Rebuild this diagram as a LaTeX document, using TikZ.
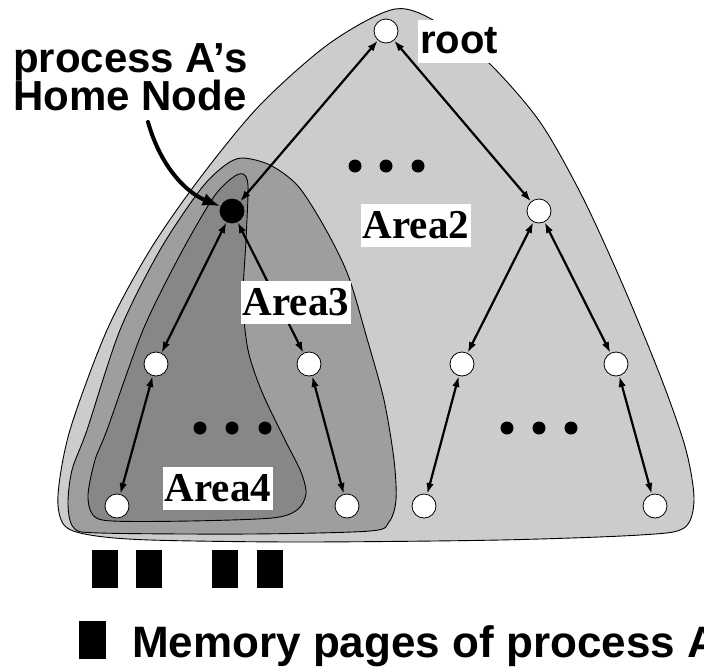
\documentclass[tikz,border=0pt]{standalone}
\usepackage{fontspec}
\setmainfont{Liberation Serif}
\setsansfont{Liberation Sans}
\usetikzlibrary{arrows.meta}
\definecolor{grigioA}{gray}{0.80}
\definecolor{grigioB}{gray}{0.62}
\definecolor{grigioC}{gray}{0.53}

\begin{document}
\begin{tikzpicture}[x=1pt, y=-1pt, line cap=round, line join=round,
  nodo/.style={circle, draw, fill=white, line width=0.8pt, minimum size=24pt, inner sep=0pt},
  freccia/.style={{Latex[length=11pt,width=7.5pt]}-{Latex[length=11pt,width=7.5pt]}, line width=2.2pt},
  area/.style={draw, line width=0.9pt},
  etichetta/.style={fill=white, inner xsep=2pt, minimum height=43pt, font=\fontsize{41}{41}\selectfont\bfseries},
  scritta/.style={inner sep=0pt, anchor=base west, font=\fontsize{42}{42}\selectfont\sffamily\bfseries}]
  \def\rp{6.5pt}

  \useasboundingbox (0,0) rectangle (704,670);
  \clip (0,0) rectangle (704,670);

  % aree
  \draw[area, fill=grigioA] plot[smooth cycle] coordinates {(395,9) (440,24) (489,63) (540,122) (583,198) (625,290) (663,383) (686,450) (694,500) (684,528) (640,535) (500,540) (300,542) (150,540) (90,535) (64,525) (58,495) (70,430) (107,330) (150,250) (200,178) (260,105) (330,43)};
  \draw[area, fill=grigioB] plot[smooth cycle] coordinates {(242,158) (270,165) (298,186) (325,228) (348,275) (366,335) (384,400) (394,460) (396,500) (389,522) (370,531) (250,534) (100,533) (74,528) (68,505) (72,470) (87,430) (120,330) (160,250) (200,190) (224,166)};
  \draw[area, fill=grigioC] plot[smooth cycle] coordinates {(243,174) (248,186) (246,240) (243,300) (248,350) (262,392) (285,440) (301,472) (306,494) (297,510) (272,518) (190,521) (112,521) (93,515) (88,495) (95,460) (107,430) (143,330) (180,255) (213,198) (232,178)};

  % nodi
  \node[nodo] (root) at (386,31) {};
  \node[nodo, fill=black] (home) at (232,211) {};
  \node[nodo] (dx) at (539,211) {};
  \node[nodo] (a) at (156,364) {};
  \node[nodo] (b) at (309,364) {};
  \node[nodo] (c) at (462,364) {};
  \node[nodo] (d) at (616,364) {};
  \node[nodo] (fa) at (117,506) {};
  \node[nodo] (fb) at (347,506) {};
  \node[nodo] (fc) at (424,506) {};
  \node[nodo] (fd) at (655,506) {};

  % archi
  \draw[freccia] (root) -- (home);
  \draw[freccia] (root) -- (dx);
  \draw[freccia] (home) -- (a);
  \draw[freccia] (home) -- (b);
  \draw[freccia] (dx) -- (c);
  \draw[freccia] (dx) -- (d);
  \draw[freccia] (a) -- (fa);
  \draw[freccia] (b) -- (fb);
  \draw[freccia] (c) -- (fc);
  \draw[freccia] (d) -- (fd);

  % puntini
  \foreach \x in {355,386,418} \fill (\x,166) circle (\rp);
  \foreach \x in {200,232,265,507,539,571} \fill (\x,428) circle (\rp);

  % etichette
  \node[etichetta] (area2) at (416,225) {Area2};
  \node[etichetta] (area3) at (296,302) {Area3};
  \node[etichetta] (area4) at (218,488) {Area4};
  \node[etichetta, font=\fontsize{40}{40}\selectfont\sffamily\bfseries] (rlab) at (459,41) {root};

  % home node
  \node[scritta] (procA) at (13,72) {process A’s};
  \node[scritta] (homeN) at (13,110) {Home Node};
  \coordinate (coda) at (148,122);
  \draw[line width=4pt, -{Latex[length=18pt,width=13pt]}] (coda) .. controls (160,165) and (185,192) .. (home);

  % pagine
  \foreach \x in {92,136,212,257} \fill (\x,550) rectangle ++(26,38);
  \fill (79,621) rectangle (106,659);
  \node[scritta, font=\fontsize{44}{44}\selectfont\sffamily\bfseries] (mem) at (132,657) {Memory pages of process A};
\end{tikzpicture}
\end{document}
